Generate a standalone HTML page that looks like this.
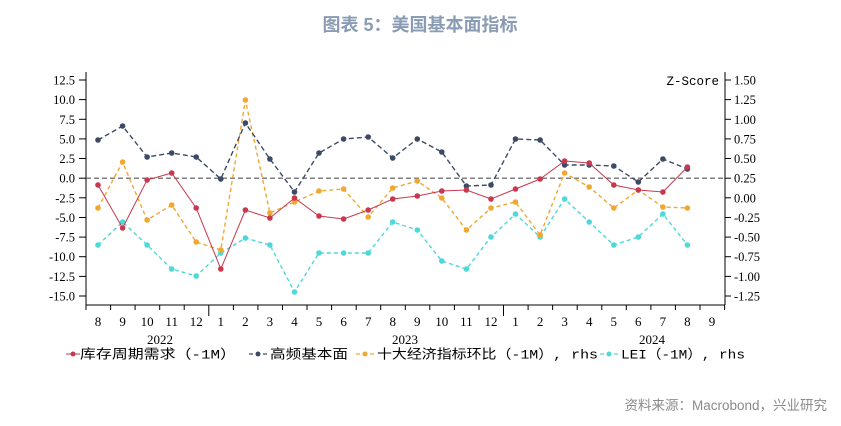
<!DOCTYPE html>
<html><head><meta charset="utf-8"><style>
html,body{margin:0;padding:0;background:#fff;}
svg{display:block;}
</style></head><body>
<svg width="841" height="426" viewBox="0 0 841 426" xmlns="http://www.w3.org/2000/svg">
<text x="420" y="31" text-anchor="middle" font-family="'Liberation Sans','Noto Sans CJK SC',sans-serif" font-size="18" font-weight="bold" fill="#8a9bb4">图表 5：美国基本面指标</text>

<g stroke="#000" stroke-width="1" fill="none">
<line x1="86" y1="72" x2="86" y2="305"/>
<line x1="725" y1="72" x2="725" y2="305"/>
<line x1="86" y1="305" x2="725" y2="305"/>
</g>
<g stroke="#000" stroke-width="1">
<line x1="79" y1="80" x2="86" y2="80"/><line x1="79" y1="99.6" x2="86" y2="99.6"/><line x1="79" y1="119.3" x2="86" y2="119.3"/><line x1="79" y1="138.9" x2="86" y2="138.9"/><line x1="79" y1="158.5" x2="86" y2="158.5"/><line x1="79" y1="178.2" x2="86" y2="178.2"/><line x1="79" y1="197.8" x2="86" y2="197.8"/><line x1="79" y1="217.5" x2="86" y2="217.5"/><line x1="79" y1="237.1" x2="86" y2="237.1"/><line x1="79" y1="256.7" x2="86" y2="256.7"/><line x1="79" y1="276.4" x2="86" y2="276.4"/><line x1="79" y1="296" x2="86" y2="296"/>
<line x1="725" y1="80" x2="731" y2="80"/><line x1="725" y1="99.6" x2="731" y2="99.6"/><line x1="725" y1="119.3" x2="731" y2="119.3"/><line x1="725" y1="138.9" x2="731" y2="138.9"/><line x1="725" y1="158.5" x2="731" y2="158.5"/><line x1="725" y1="178.2" x2="731" y2="178.2"/><line x1="725" y1="197.8" x2="731" y2="197.8"/><line x1="725" y1="217.5" x2="731" y2="217.5"/><line x1="725" y1="237.1" x2="731" y2="237.1"/><line x1="725" y1="256.7" x2="731" y2="256.7"/><line x1="725" y1="276.4" x2="731" y2="276.4"/><line x1="725" y1="296" x2="731" y2="296"/>
</g>
<g stroke="#000" stroke-width="1">
<line x1="86" y1="305" x2="86" y2="310"/><line x1="110.6" y1="305" x2="110.6" y2="310"/><line x1="135.1" y1="305" x2="135.1" y2="310"/><line x1="159.7" y1="305" x2="159.7" y2="310"/><line x1="184.2" y1="305" x2="184.2" y2="310"/><line x1="208.8" y1="305" x2="208.8" y2="316"/><line x1="233.4" y1="305" x2="233.4" y2="310"/><line x1="257.9" y1="305" x2="257.9" y2="310"/><line x1="282.5" y1="305" x2="282.5" y2="310"/><line x1="307" y1="305" x2="307" y2="310"/><line x1="331.6" y1="305" x2="331.6" y2="310"/><line x1="356.2" y1="305" x2="356.2" y2="310"/><line x1="380.7" y1="305" x2="380.7" y2="310"/><line x1="405.3" y1="305" x2="405.3" y2="310"/><line x1="429.8" y1="305" x2="429.8" y2="310"/><line x1="454.4" y1="305" x2="454.4" y2="310"/><line x1="479" y1="305" x2="479" y2="310"/><line x1="503.5" y1="305" x2="503.5" y2="316"/><line x1="528.1" y1="305" x2="528.1" y2="310"/><line x1="552.6" y1="305" x2="552.6" y2="310"/><line x1="577.2" y1="305" x2="577.2" y2="310"/><line x1="601.8" y1="305" x2="601.8" y2="310"/><line x1="626.3" y1="305" x2="626.3" y2="310"/><line x1="650.9" y1="305" x2="650.9" y2="310"/><line x1="675.4" y1="305" x2="675.4" y2="310"/><line x1="700" y1="305" x2="700" y2="310"/><line x1="724.6" y1="305" x2="724.6" y2="310"/>
</g>
<g font-family="'Liberation Serif',serif" font-size="12.5" fill="#000" text-anchor="end">
<text x="75" y="84.5">12.5</text><text x="75" y="104">10.0</text><text x="75" y="123.8">7.5</text><text x="75" y="143.4">5.0</text><text x="75" y="163">2.5</text><text x="75" y="182.7">0.0</text><text x="75" y="202.3">-2.5</text><text x="75" y="222">-5.0</text><text x="75" y="241.6">-7.5</text><text x="75" y="261.2">-10.0</text><text x="75" y="280.9">-12.5</text><text x="75" y="300.5">-15.0</text>
</g>
<g font-family="'Liberation Serif',serif" font-size="12.5" fill="#000" text-anchor="start">
<text x="734" y="84.5">1.50</text><text x="734" y="104">1.25</text><text x="734" y="123.8">1.00</text><text x="734" y="143.4">0.75</text><text x="734" y="163">0.50</text><text x="734" y="182.7">0.25</text><text x="734" y="202.3">0.00</text><text x="734" y="222">-0.25</text><text x="734" y="241.6">-0.50</text><text x="734" y="261.2">-0.75</text><text x="734" y="280.9">-1.00</text><text x="734" y="300.5">-1.25</text>
</g>
<text x="719" y="85" text-anchor="end" font-family="'Liberation Mono',monospace" font-size="12.5" fill="#000">Z-Score</text>
<g font-family="'Liberation Serif',serif" font-size="13" fill="#000" text-anchor="middle">
<text x="98" y="326">8</text><text x="122.6" y="326">9</text><text x="147.1" y="326">10</text><text x="171.7" y="326">11</text><text x="196.2" y="326">12</text><text x="220.8" y="326">1</text><text x="245.4" y="326">2</text><text x="269.9" y="326">3</text><text x="294.5" y="326">4</text><text x="319" y="326">5</text><text x="343.6" y="326">6</text><text x="368.2" y="326">7</text><text x="392.7" y="326">8</text><text x="417.3" y="326">9</text><text x="441.8" y="326">10</text><text x="466.4" y="326">11</text><text x="491" y="326">12</text><text x="515.5" y="326">1</text><text x="540.1" y="326">2</text><text x="564.6" y="326">3</text><text x="589.2" y="326">4</text><text x="613.8" y="326">5</text><text x="638.3" y="326">6</text><text x="662.9" y="326">7</text><text x="687.4" y="326">8</text><text x="712" y="326">9</text>
<text x="160" y="344">2022</text><text x="405" y="344">2023</text><text x="652" y="344">2024</text>
</g>
<line x1="86" y1="178.2" x2="725" y2="178.2" stroke="#555" stroke-width="1.2" stroke-dasharray="5,3"/>

<polyline fill="none" stroke="#4fd8d8" stroke-width="1.4" stroke-dasharray="4,3" points="98,245 122.6,222 147.1,245 171.7,269 196.2,276 220.8,253 245.4,238 269.9,245 294.5,292 319,253 343.6,253 368.2,253 392.7,222 417.3,230 441.8,261 466.4,269 491,237 515.5,214 540.1,237 564.6,199 589.2,222 613.8,245 638.3,237 662.9,214 687.4,245"/>
<g fill="#4fd8d8"><circle cx="98" cy="245" r="2.8"/><circle cx="122.6" cy="222" r="2.8"/><circle cx="147.1" cy="245" r="2.8"/><circle cx="171.7" cy="269" r="2.8"/><circle cx="196.2" cy="276" r="2.8"/><circle cx="220.8" cy="253" r="2.8"/><circle cx="245.4" cy="238" r="2.8"/><circle cx="269.9" cy="245" r="2.8"/><circle cx="294.5" cy="292" r="2.8"/><circle cx="319" cy="253" r="2.8"/><circle cx="343.6" cy="253" r="2.8"/><circle cx="368.2" cy="253" r="2.8"/><circle cx="392.7" cy="222" r="2.8"/><circle cx="417.3" cy="230" r="2.8"/><circle cx="441.8" cy="261" r="2.8"/><circle cx="466.4" cy="269" r="2.8"/><circle cx="491" cy="237" r="2.8"/><circle cx="515.5" cy="214" r="2.8"/><circle cx="540.1" cy="237" r="2.8"/><circle cx="564.6" cy="199" r="2.8"/><circle cx="589.2" cy="222" r="2.8"/><circle cx="613.8" cy="245" r="2.8"/><circle cx="638.3" cy="237" r="2.8"/><circle cx="662.9" cy="214" r="2.8"/><circle cx="687.4" cy="245" r="2.8"/></g>

<polyline fill="none" stroke="#f0a830" stroke-width="1.4" stroke-dasharray="4,3" points="98,208 122.6,162 147.1,220 171.7,205 196.2,242 220.8,250 245.4,100 269.9,213 294.5,202 319,191 343.6,189 368.2,217 392.7,188 417.3,181 441.8,198 466.4,230 491,208 515.5,202 540.1,235 564.6,173 589.2,187 613.8,208 638.3,190 662.9,207 687.4,208"/>
<g fill="#f0a830"><circle cx="98" cy="208" r="2.8"/><circle cx="122.6" cy="162" r="2.8"/><circle cx="147.1" cy="220" r="2.8"/><circle cx="171.7" cy="205" r="2.8"/><circle cx="196.2" cy="242" r="2.8"/><circle cx="220.8" cy="250" r="2.8"/><circle cx="245.4" cy="100" r="2.8"/><circle cx="269.9" cy="213" r="2.8"/><circle cx="294.5" cy="202" r="2.8"/><circle cx="319" cy="191" r="2.8"/><circle cx="343.6" cy="189" r="2.8"/><circle cx="368.2" cy="217" r="2.8"/><circle cx="392.7" cy="188" r="2.8"/><circle cx="417.3" cy="181" r="2.8"/><circle cx="441.8" cy="198" r="2.8"/><circle cx="466.4" cy="230" r="2.8"/><circle cx="491" cy="208" r="2.8"/><circle cx="515.5" cy="202" r="2.8"/><circle cx="540.1" cy="235" r="2.8"/><circle cx="564.6" cy="173" r="2.8"/><circle cx="589.2" cy="187" r="2.8"/><circle cx="613.8" cy="208" r="2.8"/><circle cx="638.3" cy="190" r="2.8"/><circle cx="662.9" cy="207" r="2.8"/><circle cx="687.4" cy="208" r="2.8"/></g>

<polyline fill="none" stroke="#3d4a66" stroke-width="1.4" stroke-dasharray="5,3" points="98,140 122.6,126 147.1,157 171.7,153 196.2,157 220.8,179 245.4,123 269.9,159 294.5,192 319,153 343.6,139 368.2,137 392.7,158 417.3,139 441.8,152 466.4,186 491,185 515.5,139 540.1,140 564.6,165 589.2,165 613.8,166 638.3,182 662.9,159 687.4,169"/>
<g fill="#3d4a66"><circle cx="98" cy="140" r="2.8"/><circle cx="122.6" cy="126" r="2.8"/><circle cx="147.1" cy="157" r="2.8"/><circle cx="171.7" cy="153" r="2.8"/><circle cx="196.2" cy="157" r="2.8"/><circle cx="220.8" cy="179" r="2.8"/><circle cx="245.4" cy="123" r="2.8"/><circle cx="269.9" cy="159" r="2.8"/><circle cx="294.5" cy="192" r="2.8"/><circle cx="319" cy="153" r="2.8"/><circle cx="343.6" cy="139" r="2.8"/><circle cx="368.2" cy="137" r="2.8"/><circle cx="392.7" cy="158" r="2.8"/><circle cx="417.3" cy="139" r="2.8"/><circle cx="441.8" cy="152" r="2.8"/><circle cx="466.4" cy="186" r="2.8"/><circle cx="491" cy="185" r="2.8"/><circle cx="515.5" cy="139" r="2.8"/><circle cx="540.1" cy="140" r="2.8"/><circle cx="564.6" cy="165" r="2.8"/><circle cx="589.2" cy="165" r="2.8"/><circle cx="613.8" cy="166" r="2.8"/><circle cx="638.3" cy="182" r="2.8"/><circle cx="662.9" cy="159" r="2.8"/><circle cx="687.4" cy="169" r="2.8"/></g>

<polyline fill="none" stroke="#c8384e" stroke-width="1" points="98,185 122.6,228 147.1,180 171.7,173 196.2,208 220.8,269 245.4,210 269.9,218 294.5,198 319,216 343.6,219 368.2,210 392.7,199 417.3,196 441.8,191 466.4,190 491,199 515.5,189 540.1,179 564.6,161 589.2,163 613.8,185 638.3,190 662.9,192 687.4,167"/>
<g fill="#c8384e"><circle cx="98" cy="185" r="2.8"/><circle cx="122.6" cy="228" r="2.8"/><circle cx="147.1" cy="180" r="2.8"/><circle cx="171.7" cy="173" r="2.8"/><circle cx="196.2" cy="208" r="2.8"/><circle cx="220.8" cy="269" r="2.8"/><circle cx="245.4" cy="210" r="2.8"/><circle cx="269.9" cy="218" r="2.8"/><circle cx="294.5" cy="198" r="2.8"/><circle cx="319" cy="216" r="2.8"/><circle cx="343.6" cy="219" r="2.8"/><circle cx="368.2" cy="210" r="2.8"/><circle cx="392.7" cy="199" r="2.8"/><circle cx="417.3" cy="196" r="2.8"/><circle cx="441.8" cy="191" r="2.8"/><circle cx="466.4" cy="190" r="2.8"/><circle cx="491" cy="199" r="2.8"/><circle cx="515.5" cy="189" r="2.8"/><circle cx="540.1" cy="179" r="2.8"/><circle cx="564.6" cy="161" r="2.8"/><circle cx="589.2" cy="163" r="2.8"/><circle cx="613.8" cy="185" r="2.8"/><circle cx="638.3" cy="190" r="2.8"/><circle cx="662.9" cy="192" r="2.8"/><circle cx="687.4" cy="167" r="2.8"/></g>

<g font-family="'Liberation Mono','Noto Sans CJK SC',monospace" font-size="13" fill="#000">
<line x1="66" y1="354" x2="80" y2="354" stroke="#c8384e" stroke-width="1"/><circle cx="73" cy="354" r="2.5" fill="#c8384e"/>
<text x="80" y="358.5" textLength="156" lengthAdjust="spacingAndGlyphs">库存周期需求（-1M）</text>
<line x1="249" y1="354" x2="268" y2="354" stroke="#3d4a66" stroke-width="1.3" stroke-dasharray="4,3"/><circle cx="258" cy="354" r="2.5" fill="#3d4a66"/>
<text x="270" y="358.5" textLength="78" lengthAdjust="spacingAndGlyphs">高频基本面</text>
<line x1="356" y1="354" x2="375" y2="354" stroke="#f0a830" stroke-width="1.3" stroke-dasharray="4,3"/><circle cx="365" cy="354" r="2.5" fill="#f0a830"/>
<text x="377" y="358.5" textLength="221" lengthAdjust="spacingAndGlyphs">十大经济指标环比（-1M）, rhs</text>
<line x1="600" y1="354" x2="619" y2="354" stroke="#4fd8d8" stroke-width="1.3" stroke-dasharray="4,3"/><circle cx="609" cy="354" r="2.5" fill="#4fd8d8"/>
<text x="621" y="358.5" textLength="124" lengthAdjust="spacingAndGlyphs">LEI（-1M）, rhs</text>
</g>
<text x="827" y="410" text-anchor="end" font-family="'Liberation Sans','Noto Sans CJK SC',sans-serif" font-size="13.5" fill="#8a8a8a">资料来源：Macrobond，兴业研究</text>
</svg>
</body></html>
